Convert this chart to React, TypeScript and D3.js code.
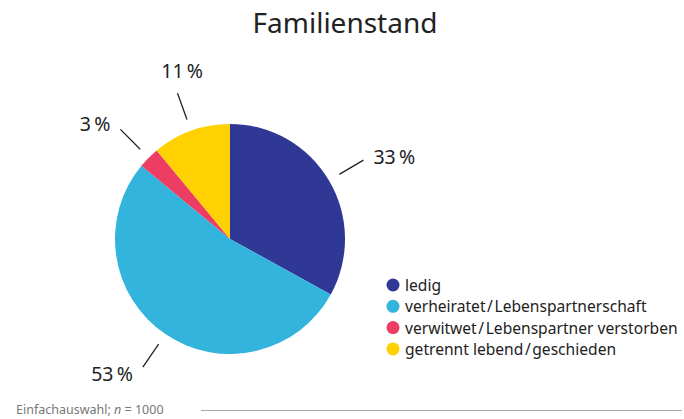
import React from "react";
import * as d3 from "d3";

const categories = [
  "ledig",
  "verheiratet / Lebenspartnerschaft",
  "verwitwet / Lebenspartner verstorben",
  "getrennt lebend / geschieden",
];
const values = [33, 53, 3, 11];
const colors = ["#303896", "#33b4dc", "#ee3d63", "#ffd100"];
const title = "Familienstand";
const footnote = "Einfachauswahl; ";

const W = 684;
const H = 419;
const cx = 230;
const cy = 239;
const R = 115;

export default function App() {
  const pie = d3.pie<number>().sort(null).value((d) => d);
  const arcs = pie(values);
  const arc = d3.arc<d3.PieArcDatum<number>>().innerRadius(0).outerRadius(R);
  const font = "'Noto Sans', Lato, sans-serif";

  return (
    <svg
      width={W}
      height={H}
      style={{ position: "absolute", left: 0, top: 0, background: "#fff" }}
      fontFamily={font}
    >
      <text x={345} y={33} textAnchor="middle" fontSize={28} fill="#222">
        {title}
      </text>
      <g transform={`translate(${cx},${cy})`}>
        {arcs.map((a, i) => (
          <path key={i} d={arc(a) || ""} fill={colors[i]} />
        ))}
        {arcs.map((a, i) => {
          const m = (a.startAngle + a.endAngle) / 2;
          const sx = Math.sin(m);
          const sy = -Math.cos(m);
          const r1 = 127;
          const r2 = 155;
          const ex = r2 * sx;
          const ey = r2 * sy;
          let anchor = "middle";
          let tx = ex + sx * 10 + 8;
          let ty = ey + sy * 24;
          if (Math.abs(sx) > 0.5) {
            anchor = sx > 0 ? "start" : "end";
            tx = ex + (sx > 0 ? 10 : -10);
            ty = ey + sy * 8;
          }
          return (
            <g key={"l" + i}>
              <line
                x1={r1 * sx}
                y1={r1 * sy}
                x2={ex}
                y2={ey}
                stroke="#222"
                strokeWidth={1.3}
              />
              <text
                x={tx}
                y={ty}
                textAnchor={anchor}
                dominantBaseline="central"
                fontSize={19.5}
                fill="#222"
              >
                {values[i] + "\u2009%"}
              </text>
            </g>
          );
        })}
      </g>
      <g transform="translate(393,285)">
        {categories.map((c, i) => (
          <g key={c} transform={`translate(0,${i * 21.3})`}>
            <circle r={6.5} fill={colors[i]} />
            <text x={12} y={0} dominantBaseline="central" fontSize={15.6} fill="#222">
              {c.replace(/ \/ /g, "\u200a/\u200a")}
            </text>
          </g>
        ))}
      </g>
      <text x={16} y={414} fontSize={12.5} fill="#777">
        {footnote}
        <tspan fontStyle="italic">n</tspan>
        {" = 1000"}
      </text>
      <line x1={201} x2={682} y1={410.5} y2={410.5} stroke="#aaa" strokeWidth={1} />
    </svg>
  );
}
